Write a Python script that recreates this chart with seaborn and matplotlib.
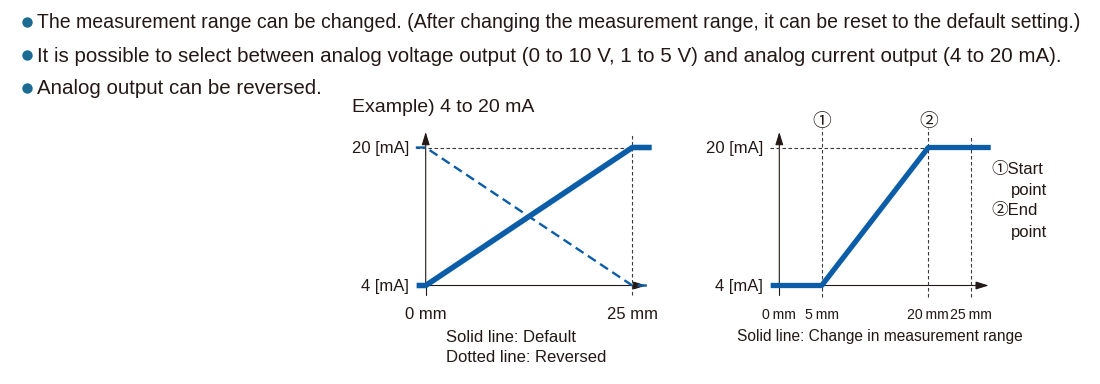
import numpy as np
import pandas as pd
import matplotlib
matplotlib.use("Agg")
import matplotlib.pyplot as plt
from matplotlib.lines import Line2D
import seaborn as sns

# ---------------- data ----------------
bullet_lines = [
    "The measurement range can be changed. (After changing the measurement range, it can be reset to the default setting.)",
    "It is possible to select between analog voltage output (0 to 10 V, 1 to 5 V) and analog current output (4 to 20 mA).",
    "Analog output can be reversed.",
]
example_title = "Example) 4 to 20 mA"

left_default_mm = [-1.1, 0, 25, 27.35]
left_default_ma = [4, 4, 20, 20]
left_reversed_mm = [-1.2, 0, 25, 27.3]
left_reversed_ma = [20, 20, 4, 4]
left_xticks = [0, 25]
left_xlabels = ["0 mm", "25 mm"]
left_caption = ["Solid line: Default", "Dotted line: Reversed"]

right_changed_mm = [-0.98, 5, 20, 27.33]
right_changed_ma = [4, 4, 20, 20]
right_xticks = [0, 5, 20, 25]
right_xlabels = ["0\u2009mm", "5\u2009mm", "20\u2009mm", "25\u2009mm"]
right_markers_mm = [5, 20]
right_marker_labels = ["\u2460", "\u2461"]
right_caption = "Solid line: Change in measurement range"
right_legend = ["\u2460Start", "point", "\u2461End", "point"]

yticks = [4, 20]
ylabels = ["4 [mA]", "20 [mA]"]

# ---------------- style ----------------
sns.set_theme(style="white")
FAM = ["Liberation Sans", "Noto Sans CJK JP", "DejaVu Sans"]
plt.rcParams["font.family"] = FAM
TXT = "#231815"
BLUE = "#0B5DA8"
BUL = "#1B6B93"
GRAY = "#3a3a3a"

W, H = 1100, 384
fig = plt.figure(figsize=(W / 100, H / 100), dpi=100)
fig.patch.set_facecolor("white")


def fx(px):
    return px / W


def fy(py):
    return 1 - py / H


# ---------------- bullet text ----------------
bullet_sizes = [14.05, 14.8, 14.8]
for i, line in enumerate(bullet_lines):
    yc = 22 + 33 * i
    fig.add_artist(Line2D([fx(26.7)], [fy(yc)], marker="o", markersize=7.5,
                          color=BUL, markeredgewidth=0, transform=fig.transFigure))
    fig.text(fx(37), fy(yc + 1), line, fontsize=bullet_sizes[i], color=TXT,
             va="center", ha="left")

# ---------------- geometry ----------------
Y4, SY = 285.5, 8.625  # px of 4 mA, px per mA
ylim = (2.5, 23.0)


def ypx(v):
    return Y4 - (v - 4) * SY


def make_axes(x_left_px, x_right_px):
    b = ypx(ylim[0])
    t = ypx(ylim[1])
    ax = fig.add_axes([fx(x_left_px), fy(b), fx(x_right_px) - fx(x_left_px), (b - t) / H])
    ax.set_facecolor("none")
    for s in ax.spines.values():
        s.set_visible(False)
    ax.tick_params(length=0, colors=TXT)
    return ax


def axis_arrows(ax, x_tip, y_tip, y_bottom):
    ax.plot([0, 0], [y_bottom, 4], color=TXT, lw=0.8, clip_on=False, zorder=1)
    ap = dict(arrowstyle="-|>,head_length=0.65,head_width=0.2", lw=0.8,
              color=TXT, shrinkA=0, shrinkB=0)
    ax.annotate("", xy=(0, y_tip), xytext=(0, 4), arrowprops=ap, annotation_clip=False, zorder=1)
    ax.annotate("", xy=(x_tip, 4), xytext=(0, 4), arrowprops=ap, annotation_clip=False, zorder=1)


dash_kw = dict(color=GRAY, lw=0.8, linestyle=(0, (3.2, 2.2)), clip_on=False, zorder=1)

# ---------------- left chart ----------------
X0L, SXL = 425.7, 8.264
xlimL = (-1.5, 29.0)
ax1 = make_axes(X0L + xlimL[0] * SXL, X0L + xlimL[1] * SXL)
ax1.set_xlim(*xlimL)
ax1.set_ylim(*ylim)

axis_arrows(ax1, 26.7, 21.8, 2.9)
ax1.plot([-1.2, 25], [20, 20], **dash_kw)
ax1.plot([25, 25], [2.9, 21.45], **dash_kw)

dfL = pd.DataFrame({"mm": left_default_mm, "mA": left_default_ma})
dfR = pd.DataFrame({"mm": left_reversed_mm, "mA": left_reversed_ma})
sns.lineplot(data=dfR, x="mm", y="mA", ax=ax1, sort=False, color=BLUE, lw=1.7,
             linestyle=(0, (4.0, 2.2)), clip_on=False, zorder=3)
sns.lineplot(data=dfL, x="mm", y="mA", ax=ax1, sort=False, color=BLUE, lw=4.0,
             solid_capstyle="butt", clip_on=False, zorder=4)

ax1.set_xticks(left_xticks, left_xlabels, fontsize=12, color=TXT)
ax1.set_yticks(yticks, ylabels, fontsize=12, color=TXT)
ax1.tick_params(axis="x", pad=6)
ax1.tick_params(axis="y", pad=3)
ax1.set_xlabel("")
ax1.set_ylabel("")

fig.text(fx(351.7), fy(107), example_title, fontsize=14.0, color=TXT, va="center", ha="left")
for i, c in enumerate(left_caption):
    fig.text(fx(446), fy(337 + 20 * i), c, fontsize=12, color=TXT, va="center", ha="left")

# ---------------- right chart (mm axis is not to scale in the reference) ----------------
bp_mm = np.array([-50.0, 0.0, 5.0, 20.0, 25.0, 80.0])
bp_px = np.array([779.3 - 50 * 8.8, 779.3, 821.7, 928.3, 970.7, 970.7 + 55 * 8.6])


def fwd(x):
    return np.interp(x, bp_mm, bp_px)


def inv(p):
    return np.interp(p, bp_px, bp_mm)


xlimR = (-1.4, 29.0)
ax2 = make_axes(fwd(xlimR[0]), fwd(xlimR[1]))
ax2.set_xscale("function", functions=(fwd, inv))
ax2.set_xlim(*xlimR)
ax2.set_ylim(*ylim)

axis_arrows(ax2, 27.1, 21.8, 2.9)
ax2.plot([-1.05, 20], [20, 20], **dash_kw)
for m in right_markers_mm:
    ax2.plot([m, m], [2.67, 22.26], **dash_kw)
ax2.plot([25, 25], [2.67, 21.45], **dash_kw)

dfC = pd.DataFrame({"mm": right_changed_mm, "mA": right_changed_ma})
sns.lineplot(data=dfC, x="mm", y="mA", ax=ax2, sort=False, color=BLUE, lw=3.8,
             solid_capstyle="butt", clip_on=False, zorder=4)

ax2.set_xticks(right_xticks, right_xlabels, fontsize=10.2, color=TXT)
ax2.set_yticks(yticks, ylabels, fontsize=12, color=TXT)
ax2.tick_params(axis="x", pad=7)
ax2.tick_params(axis="y", pad=3)
ax2.minorticks_off()
ax2.set_xlabel("")
ax2.set_ylabel("")

for m, lab in zip(right_markers_mm, right_marker_labels):
    ax2.text(m, 22.95, lab, fontsize=13.5, color=TXT, ha="center", va="center", clip_on=False)

fig.text(fx(736.7), fy(337), right_caption, fontsize=11.2, color=TXT, va="center", ha="left")
leg_pos = [(991.5, 170), (1010.5, 190.7), (991.5, 211), (1010.5, 232.5)]
for (px, py), t in zip(leg_pos, right_legend):
    fig.text(fx(px), fy(py), t, fontsize=12, color=TXT, va="center", ha="left")

fig.savefig("out.png", dpi=100, facecolor="white")
